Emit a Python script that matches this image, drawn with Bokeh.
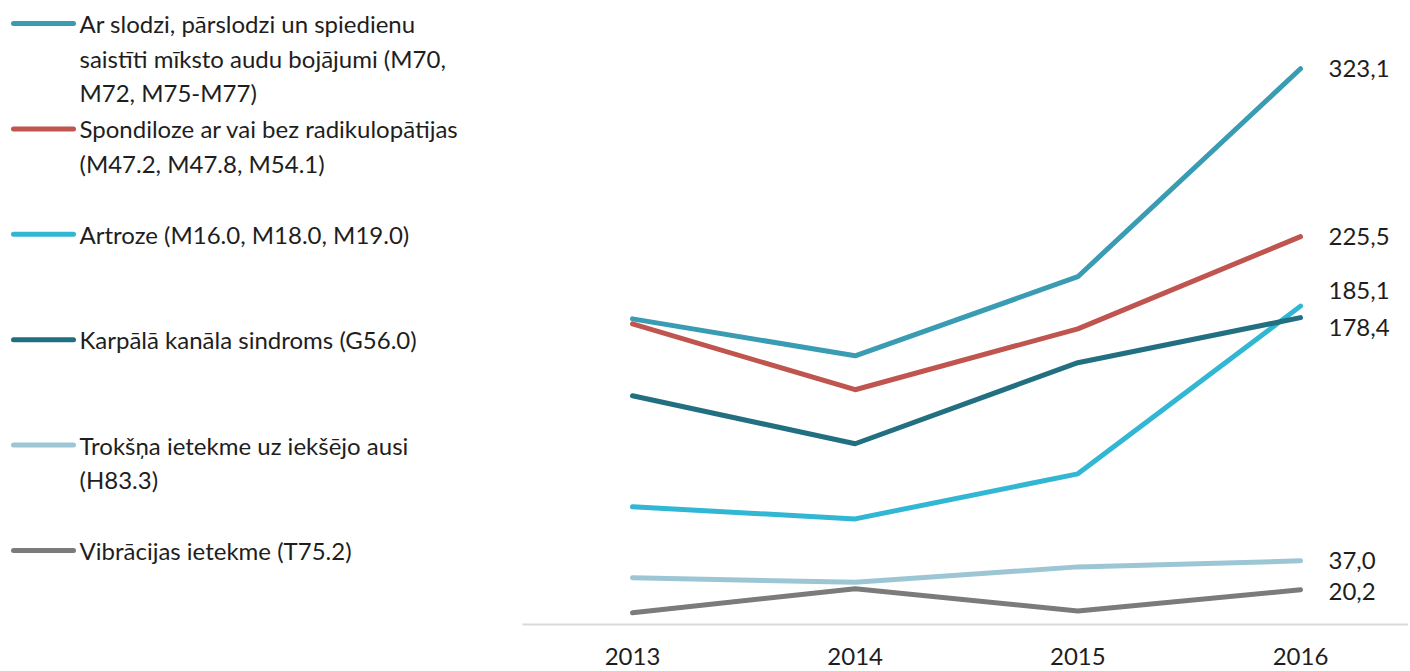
from bokeh.plotting import figure
from bokeh.models import Range1d, FixedTicker, ColumnDataSource
from bokeh.layouts import row
from bokeh.embed import file_html
from bokeh.resources import INLINE
from bokeh.core.properties import value

# ---------------- data ----------------
years = [2013, 2014, 2015, 2016]

legend_labels = [
    ["Ar slodzi, pārslodzi un spiedienu", "saistīti mīksto audu bojājumi (M70,", "M72, M75-M77)"],
    ["Spondiloze ar vai bez radikulopātijas", "(M47.2, M47.8, M54.1)"],
    ["Artroze (M16.0, M18.0, M19.0)"],
    ["Karpālā kanāla sindroms (G56.0)"],
    ["Trokšņa ietekme uz iekšējo ausi", "(H83.3)"],
    ["Vibrācijas ietekme (T75.2)"],
]

slodze = [177.7, 156.2, 202.2, 323.1]
spondiloze = [174.8, 136.5, 171.9, 225.5]
artroze = [68.4, 61.4, 87.6, 185.1]
karpala = [133.0, 105.1, 152.2, 178.4]
troksnis = [27.2, 24.5, 33.5, 37.0]
vibracija = [6.8, 20.8, 7.9, 20.2]

series = [slodze, spondiloze, artroze, karpala, troksnis, vibracija]

# ---------------- style ----------------
colors = ["#3a9cb3", "#c0544f", "#31b6d4", "#226f82", "#9cc6d4", "#7b7b7b"]
label_y_offsets = [0, 0, -16, 10, 0, 2]
FONT = "Lato"
FS = "24px"
TXT = "#1e1e1e"
H = 671
LEG_W = 522
CH_W = 886
FRAME_H = 624

# ---------------- legend panel ----------------
leg = figure(width=LEG_W, height=H, output_backend="svg", toolbar_location=None,
             x_range=Range1d(0, LEG_W), y_range=Range1d(FRAME_H, 0),
             min_border_left=0, min_border_right=0, min_border_top=0,
             min_border_bottom=H - FRAME_H, outline_line_color=None)
leg.axis.visible = False
leg.grid.visible = False

item_top = 23
item_step = 105.4
line_step = 34.5
sx0, sx1, tx = 13, 73, 79
seg = dict(x0=[], x1=[], y0=[], y1=[], c=[])
txt = dict(x=[], y=[], t=[])
for i, lines in enumerate(legend_labels):
    yc = item_top + i * item_step
    seg["x0"].append(sx0); seg["x1"].append(sx1)
    seg["y0"].append(yc); seg["y1"].append(yc); seg["c"].append(colors[i])
    for j, s in enumerate(lines):
        txt["x"].append(tx); txt["y"].append(yc + j * line_step); txt["t"].append(s)

leg.segment(x0="x0", y0="y0", x1="x1", y1="y1", color="c", line_width=5,
            line_cap="round", source=ColumnDataSource(seg))
leg.text(x="x", y="y", text="t", source=ColumnDataSource(txt),
         text_font=value(FONT), text_font_size=FS, text_color=TXT,
         text_baseline="middle", text_align="left")

# ---------------- chart ----------------
px_per_year = 668 / 3.0
x0 = years[0] - 110 / px_per_year
x1 = x0 + CH_W / px_per_year
p = figure(width=CH_W, height=H, output_backend="svg", toolbar_location=None,
           x_range=Range1d(x0, x1), y_range=Range1d(0, FRAME_H / 1.72),
           min_border_left=0, min_border_right=0, min_border_top=0,
           min_border_bottom=H - FRAME_H, outline_line_color=None)
p.grid.visible = False
p.yaxis.visible = False

for ys, c in zip(series, colors):
    p.line(years, ys, line_color=c, line_width=5, line_cap="round", line_join="round")

end_src = ColumnDataSource(dict(
    x=[years[-1]] * len(series),
    y=[s[-1] for s in series],
    t=[f"{s[-1]:.1f}".replace(".", ",") for s in series],
    dy=label_y_offsets,
))
p.text(x="x", y="y", text="t", source=end_src, x_offset=28, y_offset="dy",
       text_font=value(FONT), text_font_size=FS, text_color=TXT,
       text_baseline="middle", text_align="left")

xa = p.xaxis[0]
xa.ticker = FixedTicker(ticks=years)
xa.axis_line_color = "#d9d9d9"
xa.axis_line_width = 2
xa.major_tick_line_color = None
xa.minor_tick_line_color = None
xa.major_label_text_font = FONT
xa.major_label_text_font_size = FS
xa.major_label_text_color = TXT
xa.major_label_standoff = 17

layout = row(leg, p)
open("out.html", "w").write(file_html(layout, INLINE))
